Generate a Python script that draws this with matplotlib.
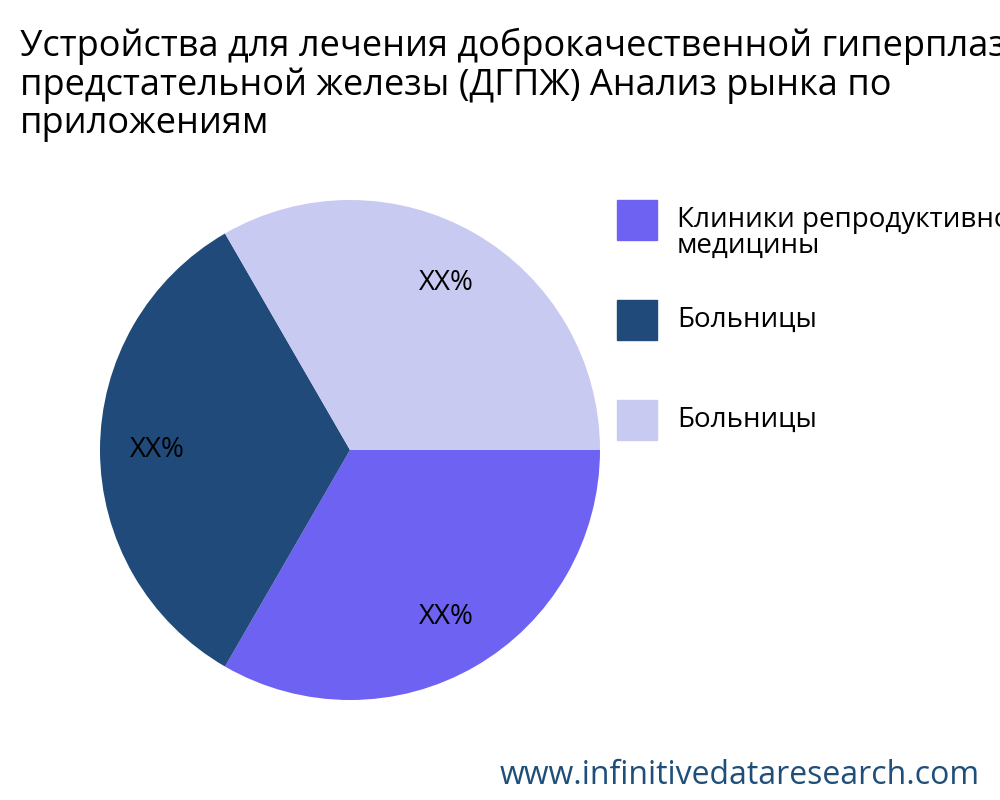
import matplotlib.pyplot as plt
from matplotlib.patches import Rectangle

plt.rcParams['font.family'] = ['Open Sans', 'DejaVu Sans']

title = ("Устройства для лечения доброкачественной гиперплазии\n"
         "предстательной железы (ДГПЖ) Анализ рынка по\n"
         "приложениям")
labels = ["Клиники репродуктивной\nмедицины", "Больницы", "Больницы"]
values = [1, 1, 1]
colors = ["#6e62f2", "#1f4a7a", "#c8caf2"]

fig = plt.figure(figsize=(10, 8), dpi=100)
fig.text(0.02, 0.965, title, fontsize=26, va='top', ha='left', linespacing=1.08)

ax = fig.add_axes([0.1, 0.125, 0.5, 0.625])
ax.pie(values, colors=colors, startangle=0, counterclock=False,
       autopct=lambda p: "XX%", pctdistance=0.77,
       textprops={'fontsize': 20, 'color': 'black'})
ax.set_xlim(-1, 1)
ax.set_ylim(-1, 1)
ax.set_aspect('equal')

for i, (lab, col) in enumerate(zip(labels, colors)):
    y = 1 - (220 + i * 100) / 800
    fig.add_artist(Rectangle((0.617, y - 0.025), 0.04, 0.05, color=col,
                             transform=fig.transFigure))
    fig.text(0.677, y - (0.016 if '\n' in lab else 0), lab, fontsize=20,
             va='center', ha='left', linespacing=0.9)

fig.text(0.98, 0.03, "www.infinitivedataresearch.com", fontsize=23,
         color="#1f4e79", ha='right', va='center')

fig.savefig("out.png", dpi=100)
